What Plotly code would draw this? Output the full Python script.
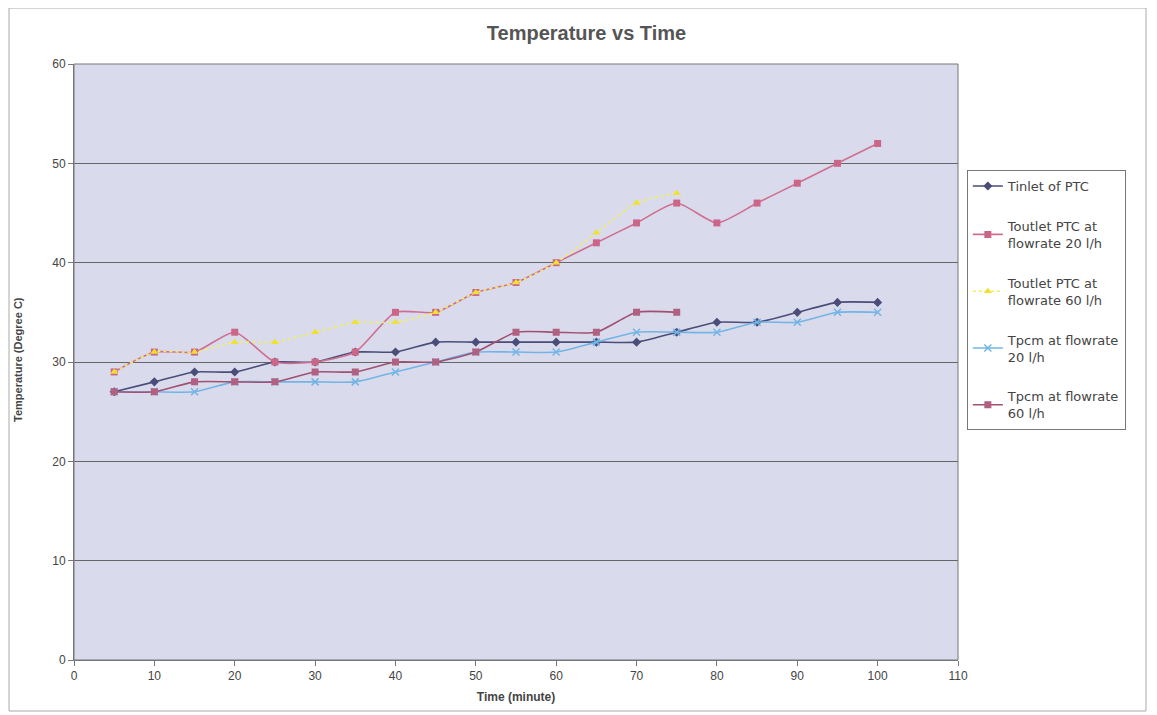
import plotly.graph_objects as go

time_all = [5, 10, 15, 20, 25, 30, 35, 40, 45, 50, 55, 60, 65, 70, 75, 80, 85, 90, 95, 100]
time_short = [5, 10, 15, 20, 25, 30, 35, 40, 45, 50, 55, 60, 65, 70, 75]

tinlet = [27, 28, 29, 29, 30, 30, 31, 31, 32, 32, 32, 32, 32, 32, 33, 34, 34, 35, 36, 36]
toutlet_20 = [29, 31, 31, 33, 30, 30, 31, 35, 35, 37, 38, 40, 42, 44, 46, 44, 46, 48, 50, 52]
toutlet_60 = [29, 31, 31, 32, 32, 33, 34, 34, 35, 37, 38, 40, 43, 46, 47]
tpcm_20 = [27, 27, 27, 28, 28, 28, 28, 29, 30, 31, 31, 31, 32, 33, 33, 33, 34, 34, 35, 35]
tpcm_60 = [27, 27, 28, 28, 28, 29, 29, 30, 30, 31, 33, 33, 33, 35, 35]

names = ["Tinlet of PTC", "Toutlet PTC at<br>flowrate 20 l/h", "Toutlet PTC at<br>flowrate 60 l/h",
         "Tpcm at flowrate<br>20 l/h", "Tpcm at flowrate<br>60 l/h"]

fig = go.Figure()
fig.add_trace(go.Scatter(x=time_all, y=tinlet, name=names[0], mode="lines+markers", legendgroup="a",
                         line=dict(color="#4a4d78", width=1.6, shape="spline", smoothing=0.6),
                         marker=dict(symbol="diamond", size=7, color="#4a4d78")))
fig.add_trace(go.Scatter(x=time_all, y=toutlet_20, name=names[1], mode="lines+markers", legendgroup="b",
                         line=dict(color="#cf6f90", width=1.6, shape="spline", smoothing=0.6),
                         marker=dict(symbol="square", size=7, color="#cc6688")))
fig.add_trace(go.Scatter(x=time_short, y=toutlet_60, name=names[2], mode="lines+markers", legendgroup="c",
                         line=dict(color="#f0f060", width=1.6, shape="spline", smoothing=0.6, dash="dot"),
                         marker=dict(symbol="triangle-up", size=7, color="#f0e030")))
fig.add_trace(go.Scatter(x=time_all, y=tpcm_20, name=names[3], mode="lines+markers", legendgroup="d",
                         line=dict(color="#72b4e4", width=1.6, shape="spline", smoothing=0.6),
                         marker=dict(symbol="x-thin", size=7, color="#72b4e4", line=dict(color="#72b4e4", width=1.5))))
fig.add_trace(go.Scatter(x=time_short, y=tpcm_60, name=names[4], mode="lines+markers", legendgroup="e",
                         line=dict(color="#a05070", width=1.6, shape="spline", smoothing=0.6),
                         marker=dict(symbol="square-x", size=7, color="#b06080")))

font_family = "Liberation Sans, Arial, sans-serif"

fig.update_layout(
    width=1157, height=715,
    paper_bgcolor="white",
    plot_bgcolor="#dadaed",
    margin=dict(l=66, r=207, t=56, b=63, autoexpand=False),
    title=dict(text="<b>Temperature vs Time</b>", x=0.5, xanchor="center", y=1 - 25 / 715, yanchor="middle",
               font=dict(family=font_family, size=20, color="#555555")),
    font=dict(family=font_family, color="#444444"),
    showlegend=True,
    legend=dict(x=1.010, xanchor="left", y=0.822, yanchor="top",
                bgcolor="white", bordercolor="#777777", borderwidth=1,
                font=dict(family="DejaVu Sans, sans-serif", size=13, color="#444444"),
                traceorder="grouped", tracegroupgap=20, itemwidth=30),
)
fig.update_xaxes(range=[0, 110], dtick=10, tick0=0, showgrid=False, zeroline=False,
                 showline=True, linecolor="#777777", linewidth=1, ticks="outside", ticklen=5,
                 tickcolor="#777777", tickfont=dict(size=12, color="#444444"),
                 title=dict(text="<b>Time (minute)</b>", font=dict(size=12, color="#444444"), standoff=10))
fig.update_yaxes(range=[0, 60], dtick=10, tick0=0, showgrid=True, gridcolor="#666666", gridwidth=1.3,
                 zeroline=False, showline=True, linecolor="#777777", linewidth=1, ticks="outside",
                 ticklen=5, tickcolor="#777777", tickfont=dict(size=12, color="#444444"))

fig.add_annotation(text="<b>Temperature (Degree C)</b>", xref="paper", yref="paper",
                   x=(18 - 74) / 884, y=(660 - 360) / 596, textangle=-90, showarrow=False,
                   xanchor="center", yanchor="middle", font=dict(size=11, color="#444444"))

fig.add_shape(type="rect", xref="paper", yref="paper", x0=0, x1=1, y0=0, y1=1, layer="above",
              line=dict(color="#777777", width=1), fillcolor="rgba(0,0,0,0)")
fig.add_shape(type="rect", xref="paper", yref="paper", x0=-65 / 884, x1=1 + 188 / 884, y0=-51 / 596, y1=1 + 56 / 596,
              line=dict(color="#aaaaaa", width=1), fillcolor="rgba(0,0,0,0)")

fig.write_html("out.html")
